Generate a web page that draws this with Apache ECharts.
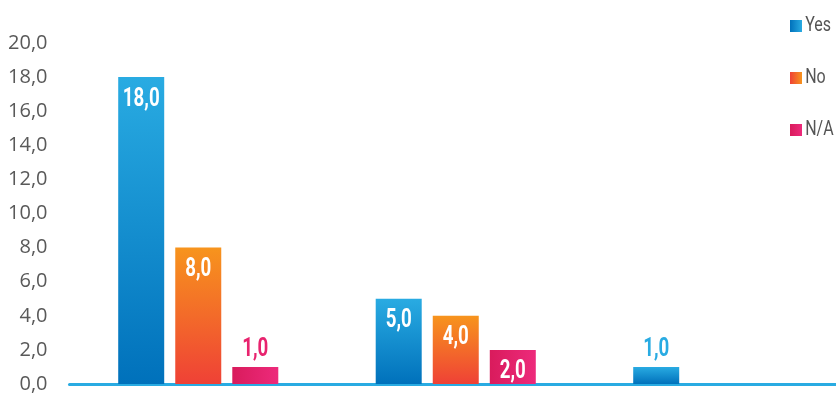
<!DOCTYPE html>
<html>
<head>
<meta charset="utf-8">
<script src="https://cdn.jsdelivr.net/npm/echarts@6/dist/echarts.min.js"></script>
<style>
  html, body { margin: 0; padding: 0; background: #ffffff; }
  #chart { width: 836px; height: 393px; }
</style>
</head>
<body>
<div id="chart"></div>
<script>
// Three answer groups (unlabelled on the axis)
const categories = ['A', 'B', 'C'];
const seriesNames = ['Yes', 'No', 'N/A'];
const yesValues = [18, 5, 1];
const noValues = [8, 4, null];
const naValues = [1, 2, null];
const yTickMin = 0;
const yTickMax = 20;
const yTickStep = 2;

function vGrad(top, bottom) {
  return new echarts.graphic.LinearGradient(0, 0, 0, 1, [
    { offset: 0, color: top }, { offset: 1, color: bottom }
  ]);
}
function hGrad(left, right) {
  return new echarts.graphic.LinearGradient(0, 0, 1, 0, [
    { offset: 0, color: left }, { offset: 1, color: right }
  ]);
}

const palette = {
  'Yes': { bar: vGrad('#29abe2', '#0071bb'), icon: hGrad('#0071bb', '#29abe2'), text: '#29abe2' },
  'No':  { bar: vGrad('#f7941d', '#ef4136'), icon: hGrad('#ef4136', '#f7941d'), text: '#f15a29' },
  'N/A': { bar: hGrad('#d91b5c', '#ed2a7b'), icon: hGrad('#d91b5c', '#ed2a7b'), text: '#e8236e' }
};

const fmt = v => v.toFixed(1).replace('.', ',');
const labelFont = {
  fontFamily: 'Roboto, sans-serif',
  fontWeight: 'bold',
  fontSize: 26
};

function buildData(values, name) {
  return values.map(v => {
    if (v === null) return null;
    // short bars carry their label above the bar in the bar colour
    if (v < 1.5) {
      return { value: v, label: { position: 'top', distance: 4, color: palette[name].text } };
    }
    return { value: v };
  });
}

const valueSets = [yesValues, noValues, naValues];
const series = seriesNames.map((name, i) => ({
  name: name,
  type: 'bar',
  barWidth: 46,
  barGap: '24%',
  itemStyle: { color: palette[name].bar },
  label: Object.assign({
    show: true,
    position: 'insideTop',
    distance: 9,
    color: '#ffffff',
    formatter: p => fmt(p.value)
  }, labelFont),
  data: buildData(valueSets[i], name)
}));

const chart = echarts.init(document.getElementById('chart'));
chart.setOption({
  animation: false,
  legend: {
    orient: 'vertical',
    left: 785,
    top: 11,
    itemWidth: 12,
    itemHeight: 12,
    itemGap: 32,
    icon: 'rect',
    textStyle: {
      fontFamily: 'Roboto, sans-serif',
      fontSize: 20,
      color: '#555555',
      padding: [0, 0, 0, 2]
    },
    data: seriesNames.map(n => ({ name: n, itemStyle: { color: palette[n].icon } }))
  },
  grid: { left: 69.5, top: 43, width: 772.5, bottom: 9, outerBoundsMode: 'none', containLabel: false },
  xAxis: {
    type: 'category',
    data: categories,
    axisLine: { lineStyle: { color: '#29abe2', width: 3 } },
    axisTick: { show: false },
    axisLabel: { show: false }
  },
  yAxis: {
    type: 'value',
    min: yTickMin,
    max: yTickMax,
    interval: yTickStep,
    splitLine: { show: false },
    axisLine: { show: false },
    axisTick: { show: false },
    axisLabel: {
      margin: 22,
      formatter: v => fmt(v),
      fontFamily: '"Open Sans", sans-serif',
      fontSize: 20,
      color: '#595959'
    }
  },
  series: series
});

// Narrow the value labels and legend texts horizontally (condensed look)
(function condenseTexts() {
  const zr = chart.getZr();
  const seen = new Set();
  zr.storage.getDisplayList(true).forEach(el => {
    const txt = el.getTextContent && el.getTextContent();
    if (txt && !seen.has(txt)) {
      seen.add(txt);
      txt.scaleX = 0.72;
      txt.originX = 0;
      txt.dirty && txt.dirty();
    }
    const p = el.parent;
    if (el.type === 'tspan' && p && p.type === 'text' && p.style &&
        seriesNames.indexOf(p.style.text) >= 0 && !seen.has(p)) {
      seen.add(p);
      p.scaleX = 0.8;
      p.dirty && p.dirty();
    }
  });
  zr.refresh();
})();
</script>
</body>
</html>
